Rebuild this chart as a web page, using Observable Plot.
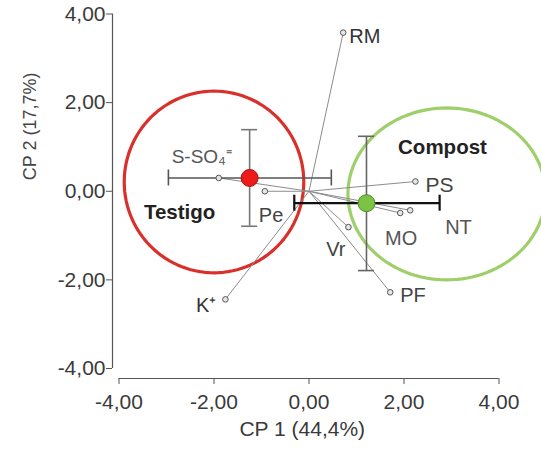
<!DOCTYPE html>
<html><head><meta charset="utf-8">
<script src="https://cdn.jsdelivr.net/npm/d3@7"></script>
<script src="https://cdn.jsdelivr.net/npm/@observablehq/plot@0.6"></script>
<style>body{margin:0;background:#fff}</style>
</head><body><div id="chart"></div>
<script>
// ---- data ----
const variables = ["RM", "S-SO₄⁼", "Pe", "PS", "NT", "MO", "Vr", "PF", "K⁺"];
const loadX = [0.72, -1.90, -0.93, 2.24, 2.13, 1.92, 0.83, 1.71, -1.76];
const loadY = [3.58, 0.30, 0.00, 0.22, -0.43, -0.49, -0.81, -2.28, -2.44];

const groups = ["Testigo", "Compost"];
const groupX = [-1.25, 1.21];
const groupY = [0.30, -0.27];
const groupXlo = [-2.96, -0.31];
const groupXhi = [0.47, 2.75];
const groupYlo = [-0.79, -1.79];
const groupYhi = [1.39, 1.24];
const ellipseCx = [-2.00, 2.90];
const ellipseCy = [0.21, -0.06];
const ellipseRx = [1.89, 2.08];
const ellipseRy = [2.05, 1.94];

const tickValues = [-4, -2, 0, 2, 4];
const xTitle = "CP 1 (44,4%)";
const yTitle = "CP 2 (17,7%)";

// ---- styles ----
const varLabelStyle = {
  "RM": {anchor: "start", dx: 6, dy: 4, fill: "#333", size: 20},
  "S-SO₄⁼": {anchor: "middle", dx: -17, dy: -21, fill: "#555", size: 19},
  "Pe": {anchor: "start", dx: -6, dy: 24, fill: "#444", size: 20},
  "PS": {anchor: "start", dx: 10, dy: 4, fill: "#444", size: 21},
  "NT": {anchor: "start", dx: 35, dy: 17, fill: "#555", size: 20},
  "MO": {anchor: "middle", dx: 1, dy: 26, fill: "#555", size: 20},
  "Vr": {anchor: "end", dx: -3, dy: 22, fill: "#444", size: 20},
  "PF": {anchor: "start", dx: 10, dy: 3, fill: "#444", size: 20},
  "K⁺": {anchor: "end", dx: -9, dy: 6, fill: "#333", size: 20}
};
const groupStyle = {
  fill: ["#ee1b1b", "#7cc245"],
  stroke: ["#a51212", "#4f8c2c"],
  ring: ["#d9302b", "#9fcf6b"],
  hbar: ["#555", "#111"],
  hbarW: [1.6, 2.2],
  vbar: ["#777", "#666"],
  labelDx: [-70, 76],
  labelDy: [34, -56]
};

const fmt = d => d3.format(".2f")(d).replace(".", ",").replace("\u2212", "-");
const vIdx = d3.range(variables.length);
const gIdx = d3.range(groups.length);

// ellipse outlines built from centre + radii (geometry, not data)
const ellipsePts = gIdx.map(g => d3.range(0, 360, 3).map(a => ({
  x: ellipseCx[g] + ellipseRx[g] * Math.cos(a * Math.PI / 180),
  y: ellipseCy[g] + ellipseRy[g] * Math.sin(a * Math.PI / 180)
})));

const marks = [];

// axes
marks.push(Plot.ruleX([-4], {y1: -4, y2: 4, dx: -6.5, stroke: "#555", strokeWidth: 1.2}));
marks.push(Plot.ruleY([-4], {x1: -4, x2: 4, dy: 10, stroke: "#555", strokeWidth: 1.2}));
marks.push(Plot.axisX({ticks: tickValues, tickFormat: fmt, tickSize: 6, tickPadding: 10,
  fontSize: 21, stroke: "#555", fill: "#3a3a3a", label: null}));
marks.push(Plot.axisY({ticks: tickValues, tickFormat: fmt, tickSize: 6, tickPadding: 1,
  fontSize: 21, stroke: "#555", fill: "#3a3a3a", label: null}));
marks.push(Plot.text([xTitle], {frameAnchor: "bottom", dx: -3.5, dy: 57.5, fontSize: 21, fill: "#3a3a3a"}));
marks.push(Plot.text([yTitle], {frameAnchor: "left", rotate: -90, dx: -82.5, dy: -16, fontSize: 18, fill: "#444"}));

// ellipses
gIdx.forEach(g => {
  marks.push(Plot.line(ellipsePts[g], {x: "x", y: "y", curve: "linear-closed",
    stroke: groupStyle.ring[g], strokeWidth: 3.2}));
});

// loading vectors
marks.push(Plot.link(vIdx, {x1: 0, y1: 0, x2: i => loadX[i], y2: i => loadY[i],
  stroke: "#8c8c8c", strokeWidth: 1}));

// error bars
gIdx.forEach(g => {
  const d = [g];
  marks.push(Plot.ruleY(d, {y: i => groupY[i], x1: i => groupXlo[i], x2: i => groupXhi[i],
    stroke: groupStyle.hbar[g], strokeWidth: groupStyle.hbarW[g]}));
  marks.push(Plot.ruleX(d, {x: i => groupXlo[i], y1: i => groupY[i], y2: i => groupY[i],
    insetTop: -8, insetBottom: -8, stroke: groupStyle.hbar[g], strokeWidth: groupStyle.hbarW[g]}));
  marks.push(Plot.ruleX(d, {x: i => groupXhi[i], y1: i => groupY[i], y2: i => groupY[i],
    insetTop: -8, insetBottom: -8, stroke: groupStyle.hbar[g], strokeWidth: groupStyle.hbarW[g]}));
  marks.push(Plot.ruleX(d, {x: i => groupX[i], y1: i => groupYlo[i], y2: i => groupYhi[i],
    stroke: groupStyle.vbar[g], strokeWidth: 1.6}));
  marks.push(Plot.ruleY(d, {y: i => groupYlo[i], x1: i => groupX[i], x2: i => groupX[i],
    insetLeft: -8, insetRight: -8, stroke: groupStyle.vbar[g], strokeWidth: 1.6}));
  marks.push(Plot.ruleY(d, {y: i => groupYhi[i], x1: i => groupX[i], x2: i => groupX[i],
    insetLeft: -8, insetRight: -8, stroke: groupStyle.vbar[g], strokeWidth: 1.6}));
});

// variable points
marks.push(Plot.dot(vIdx, {x: i => loadX[i], y: i => loadY[i], r: 2.8,
  fill: "#e6e6e6", stroke: "#555", strokeWidth: 1}));

// variable labels
vIdx.forEach(i => {
  const s = varLabelStyle[variables[i]];
  marks.push(Plot.text([i], {x: j => loadX[j], y: j => loadY[j], text: j => variables[j],
    textAnchor: s.anchor, dx: s.dx, dy: s.dy, fill: s.fill, fontSize: s.size}));
});

// group centroids + labels
gIdx.forEach(g => {
  marks.push(Plot.dot([g], {x: i => groupX[i], y: i => groupY[i], r: 8.5,
    fill: groupStyle.fill[g], stroke: groupStyle.stroke[g], strokeWidth: 1}));
  marks.push(Plot.text([g], {x: i => groupX[i], y: i => groupY[i], text: i => groups[i],
    dx: groupStyle.labelDx[g], dy: groupStyle.labelDy[g], fontSize: 20.5, fontWeight: "bold", fill: "#222"}));
});

const chart = Plot.plot({
  width: 541,
  height: 453,
  marginLeft: 112,
  marginRight: 42.5,
  marginTop: 13.5,
  marginBottom: 75,
  x: {domain: [-4, 4], insetLeft: 6.5},
  y: {domain: [-4, 4], insetBottom: 10},
  style: {fontFamily: "'Liberation Sans', Arial, sans-serif", background: "white", overflow: "hidden"},
  marks
});
document.getElementById("chart").appendChild(chart);
</script>
</body></html>
